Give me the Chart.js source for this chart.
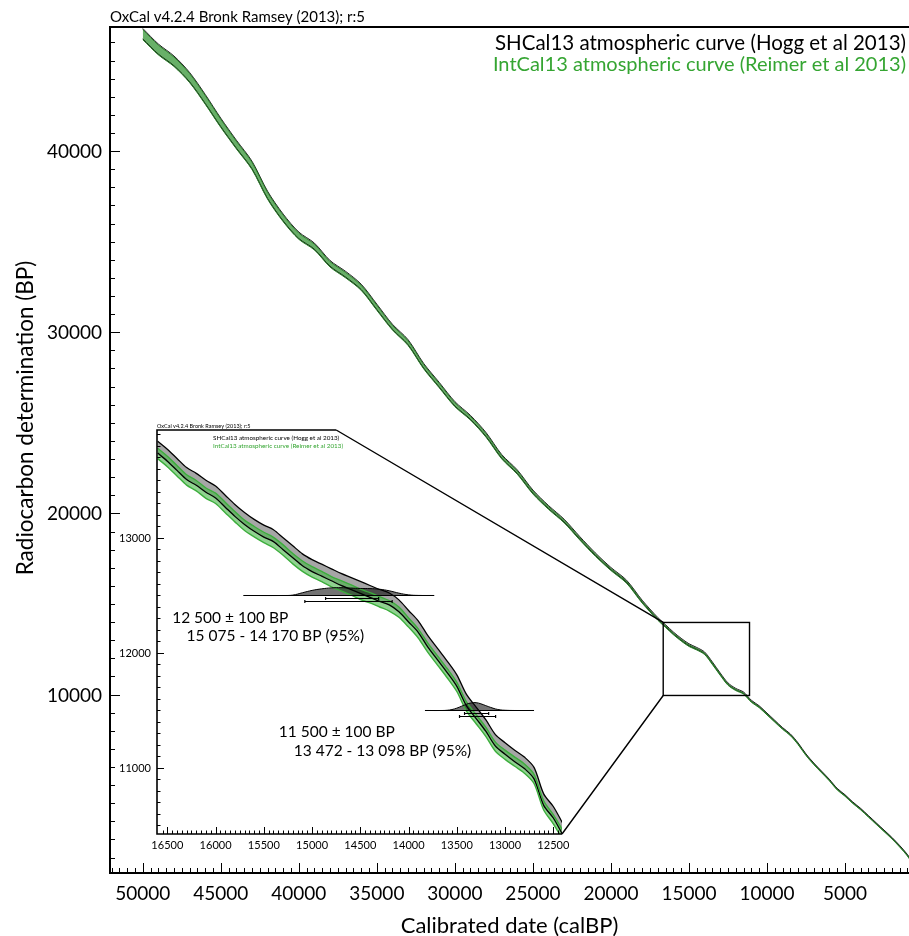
<!DOCTYPE html>
<html>
<head>
<meta charset="utf-8">
<script src="https://cdn.jsdelivr.net/npm/chart.js@4.4.1/dist/chart.umd.min.js"></script>
<style>
html, body { margin: 0; padding: 0; background: #fff; }
#wrap { position: relative; width: 909px; height: 936px; }
#wrap canvas { position: absolute; left: 0; top: 0; }
</style>
</head>
<body>
<div id="wrap">
  <canvas id="mainChart" width="909" height="936"></canvas>
  <canvas id="insetChart" width="909" height="936"></canvas>
</div>
<script>
// ---- main plot: calibration curves (calBP -> 14C BP) ----
var mainCal = [50000,49000,48000,47000,46000,45000,44000,43000,42000,41000,40000,39000,38000,37000,36000,35000,34000,33000,32000,31000,30000,29000,28000,27000,26000,25000,24000,23000,22000,21000,20000,19000,18000,17000,
  16500,16000,15500,15000,14500,14000,13500,13000,12500,12000,11500,11000,10500,10000,9500,9000,8500,8000,7500,7000,6500,6000,5500,5000,4500,4000,3500,3000,2500,2000,1500,1000,500,0];
var intcalMain = [46430,45580,44930,44030,42830,41530,40330,39180,37530,36280,35300,34700,33750,33150,32450,31350,30250,29400,28100,27050,26000,25250,24300,23100,22250,21150,20300,19550,18600,17700,16900,16200,15100,14150,
  13750,13350,13000,12700,12500,12250,11700,11100,10550,10250,10050,9600,9300,8900,8500,8100,7750,7250,6650,6150,5700,5250,4750,4400,4000,3650,3250,2850,2450,2050,1600,1100,450,100];
var intcalMainErr = [280,270,260,250,240,225,210,200,190,180,170,160,150,150,140,140,130,130,120,120,110,100,100,90,90,80,75,70,65,60,55,55,50,45,
  45,45,45,45,40,40,40,35,35,30,30,28,25,25,22,20,20,20,18,18,18,16,16,16,15,15,15,15,15,15,15,15,15,15];
var shcalMain = [46480,45630,44980,44080,42880,41580,40380,39230,37580,36330,35350,34750,33800,33200,32500,31400,30300,29450,28150,27100,26050,25300,24350,23150,22300,21200,20350,19600,18650,17750,16950,16250,15150,14200,
  13800,13400,13050,12750,12550,12300,11750,11150,10600,10300,10100,9650,9350,8950,8550,8150,7800,7300,6700,6200,5750,5300,4800,4450,4050,3700,3300,2900,2500,2100,1650,1150,500,150];
var shcalMainErr = [290,280,270,260,250,235,220,210,200,190,180,170,160,160,150,150,140,140,130,130,120,110,110,100,100,90,85,80,75,70,65,65,60,55,
  55,55,55,55,50,50,50,45,45,40,40,35,30,30,28,25,25,25,22,22,22,20,20,20,20,20,20,20,20,20,20,20,20,20];

// ---- inset: 16.6 - 12.4 ka detail ----
var insetCal = [16600,16500,16400,16300,16200,16100,16000,15900,15800,15700,15600,15500,15400,15300,15200,15100,15000,14900,14800,14700,14600,14500,14400,14300,14200,14100,14000,13900,13800,13700,13600,13500,13400,13300,13200,13100,13000,12900,12800,12700,12600,12500,12400];
var intcalInset = [13735,13665,13585,13505,13455,13390,13345,13265,13185,13110,13055,13005,12960,12895,12820,12755,12705,12665,12620,12585,12550,12510,12480,12445,12410,12355,12265,12170,12045,11935,11825,11705,11535,11425,11315,11185,11115,11055,10995,10905,10675,10555,10415];
var intcalInsetErr = [45,45,45,45,45,45,45,45,45,45,45,45,45,45,45,45,45,45,45,45,45,45,45,45,45,45,40,40,40,40,40,40,40,40,40,40,40,40,40,40,40,40,40];
var shcalInset = [13790,13720,13640,13560,13510,13450,13400,13320,13240,13170,13110,13060,13020,12950,12880,12810,12760,12720,12680,12640,12605,12570,12535,12500,12470,12410,12320,12230,12100,11990,11880,11760,11590,11480,11370,11240,11170,11105,11045,10955,10725,10615,10465];
var shcalInsetErr = [52,52,52,52,52,52,52,52,52,52,52,52,52,52,52,52,52,52,52,52,52,52,52,52,52,52,50,50,50,50,50,50,50,50,50,50,50,50,50,50,50,50,50];

// calibrated dates shown in the inset
var date1 = { bp: 12500, err: 100, label: '12 500 \u00b1 100 BP', range: '15 075 - 14 170 BP (95%)' };
var dist1Cal = [15710,15300,15200,15100,15000,14900,14800,14700,14600,14500,14400,14300,14200,14100,14000,13900,13735];
var dist1Prob = [0,0,0.05,0.35,0.65,0.85,0.97,1.0,0.95,0.9,0.88,0.8,0.6,0.3,0.08,0.01,0];
var dist1Range95 = [15075, 14170];
var dist1Range68 = [14860, 14310];
var date2 = { bp: 11500, err: 100, label: '11 500 \u00b1 100 BP', range: '13 472 - 13 098 BP (95%)' };
var dist2Cal = [13830,13650,13600,13550,13500,13450,13400,13350,13300,13250,13200,13150,13100,13050,13000,12900,12700];
var dist2Prob = [0,0,0.03,0.12,0.3,0.55,0.8,0.97,1.0,0.85,0.62,0.4,0.2,0.08,0.03,0,0];
var dist2Range95 = [13472, 13098];
var dist2Range68 = [13420, 13170];

// tick labels
var mainXLabels = [50000,45000,40000,35000,30000,25000,20000,15000,10000,5000];
var mainYLabels = [10000,20000,30000,40000];
var insetXLabels = [16500,16000,15500,15000,14500,14000,13500,13000,12500];
var insetYLabels = [11000,12000,13000];

// axis ranges / zoom box (data units)
var mainXRange = [900, 52100];
var mainYRange = [150, 46850];
var insetXRange = [12410, 16607];
var insetYRange = [10426, 13939];
var zoomBoxCal = [16650, 11120];
var zoomBoxBP = [9950, 13980];
var insetTopEdgeCal = 14750;
var distHeight = 68;

var FONT = 'Lato, "Open Sans", sans-serif';
var GREEN_TXT = '#35a532';

function band(xs, mid, err, sign) {
  return xs.map(function(x, i) { return { x: x, y: mid[i] + sign * err[i] }; });
}
function hump(xs, prob, base) {
  return xs.map(function(x, i) { return { x: x, y: base + prob[i] * distHeight }; });
}
// index 0 is drawn last (on top)
function bandSets(xs, sh, shErr, ic, icErr, st) {
  return [
    { data: band(xs, ic, icErr, 1), borderColor: st.icLine, borderWidth: st.icW, fill: false },
    { data: band(xs, ic, icErr, -1), borderColor: st.icLine, borderWidth: st.icW, fill: '-1', backgroundColor: st.icFill },
    { data: band(xs, sh, shErr, 1), borderColor: st.shLine, borderWidth: st.shW, fill: false },
    { data: band(xs, sh, shErr, -1), borderColor: st.shLine, borderWidth: st.shW, fill: '-1', backgroundColor: st.shFill }
  ];
}

function text(ctx, s, x, y, size, color, align) {
  ctx.font = size + 'px ' + FONT;
  ctx.fillStyle = color || '#000';
  ctx.textAlign = align || 'left';
  ctx.textBaseline = 'alphabetic';
  ctx.fillText(s, x, y);
}

function drawFrameTicks(ctx, xs, ys, area, o) {
  ctx.strokeStyle = '#000';
  ctx.lineWidth = 1;
  var v, p, len;
  for (v = o.xFrom; v <= o.xTo; v += o.xStep) {
    p = xs.getPixelForValue(v);
    if (p < area.left + 1 || p > area.right) continue;
    len = (v % o.xMajor === 0) ? o.majorLen : o.minorLen;
    ctx.beginPath();
    ctx.moveTo(Math.round(p) + 0.5, area.bottom);
    ctx.lineTo(Math.round(p) + 0.5, area.bottom - len);
    ctx.stroke();
  }
  for (v = o.yFrom; v <= o.yTo; v += o.yStep) {
    p = ys.getPixelForValue(v);
    if (p < area.top || p > area.bottom - 1) continue;
    len = (v % o.yMajor === 0) ? o.majorLen : o.minorLen;
    ctx.beginPath();
    ctx.moveTo(area.left, Math.round(p) + 0.5);
    ctx.lineTo(area.left + len, Math.round(p) + 0.5);
    ctx.stroke();
  }
}

var mainDecor = {
  id: 'mainDecor',
  afterDraw: function(chart) {
    var ctx = chart.ctx, a = chart.chartArea, xs = chart.scales.x, ys = chart.scales.y;
    ctx.save();
    drawFrameTicks(ctx, xs, ys, a, { xFrom: 1000, xTo: 52000, xStep: 500, xMajor: 5000,
      yFrom: 1000, yTo: 46000, yStep: 1000, yMajor: 10000, majorLen: 10, minorLen: 5 });
    ctx.lineWidth = 2;
    ctx.beginPath();
    ctx.moveTo(a.right, a.top); ctx.lineTo(a.left, a.top);
    ctx.lineTo(a.left, a.bottom); ctx.lineTo(a.right, a.bottom);
    ctx.stroke();
    mainXLabels.forEach(function(v) {
      text(ctx, String(v), xs.getPixelForValue(v), a.bottom + 27, 19, '#000', 'center');
    });
    mainYLabels.forEach(function(v) {
      text(ctx, String(v), a.left - 8, ys.getPixelForValue(v) + 7, 19, '#000', 'right');
    });
    text(ctx, 'OxCal v4.2.4 Bronk Ramsey (2013); r:5', a.left, a.top - 5, 15, '#000', 'left');
    text(ctx, 'SHCal13 atmospheric curve (Hogg et al 2013)', a.right - 3, 50, 20.5, '#000', 'right');
    text(ctx, 'IntCal13 atmospheric curve (Reimer et al 2013)', a.right - 3, 71, 20, GREEN_TXT, 'right');
    text(ctx, 'Calibrated date (calBP)', (a.left + a.right) / 2, 933, 22, '#000', 'center');
    ctx.translate(33, 418);
    ctx.rotate(-Math.PI / 2);
    text(ctx, 'Radiocarbon determination (BP)', 0, 0, 22.5, '#000', 'center');
    ctx.restore();
  }
};

var baseOpts = function(pad, xr, yr) {
  return {
    responsive: false,
    animation: false,
    layout: { padding: pad },
    elements: { point: { radius: 0 }, line: { tension: 0.3 } },
    plugins: { legend: { display: false }, tooltip: { enabled: false }, filler: { drawTime: 'beforeDatasetsDraw' } },
    scales: {
      x: { type: 'linear', reverse: true, min: xr[0], max: xr[1], display: false },
      y: { type: 'linear', min: yr[0], max: yr[1], display: false }
    }
  };
};

var mainChart = new Chart(document.getElementById('mainChart').getContext('2d'), {
  type: 'line',
  data: { datasets: bandSets(mainCal, shcalMain, shcalMainErr, intcalMain, intcalMainErr, {
    icLine: '#2a7d2a', icW: 1, icFill: 'rgba(70,165,70,0.75)',
    shLine: 'rgba(0,0,0,0.85)', shW: 1, shFill: 'rgba(0,0,0,0.2)' }) },
  options: baseOpts({ left: 110, top: 27, right: 0, bottom: 63 }, mainXRange, mainYRange),
  plugins: [mainDecor]
});

function drawRange(ctx, xs, ys, r, bp) {
  var y = Math.round(ys.getPixelForValue(bp)) + 0.5;
  var x1 = xs.getPixelForValue(r[0]), x2 = xs.getPixelForValue(r[1]);
  ctx.beginPath();
  ctx.moveTo(x1, y); ctx.lineTo(x2, y);
  ctx.moveTo(x1, y - 1.5); ctx.lineTo(x1, y + 1.5);
  ctx.moveTo(x2, y - 1.5); ctx.lineTo(x2, y + 1.5);
  ctx.stroke();
}

var insetDecor = {
  id: 'insetDecor',
  afterDraw: function(chart) {
    var ctx = chart.ctx, a = chart.chartArea, xs = chart.scales.x, ys = chart.scales.y;
    var mx = mainChart.scales.x, my = mainChart.scales.y;
    ctx.save();
    // baselines and ranges of the calibrated dates
    ctx.strokeStyle = '#000';
    ctx.lineWidth = 1.2;
    [[date1, dist1Cal, dist1Range95, dist1Range68], [date2, dist2Cal, dist2Range95, dist2Range68]].forEach(function(d) {
      var y = ys.getPixelForValue(d[0].bp);
      ctx.beginPath();
      ctx.moveTo(xs.getPixelForValue(d[1][0]), y);
      ctx.lineTo(xs.getPixelForValue(d[1][d[1].length - 1]), y);
      ctx.stroke();
      drawRange(ctx, xs, ys, d[3], d[0].bp - 24);
      drawRange(ctx, xs, ys, d[2], d[0].bp - 52);
    });
    drawFrameTicks(ctx, xs, ys, a, { xFrom: 12450, xTo: 16600, xStep: 50, xMajor: 500,
      yFrom: 10500, yTo: 13900, yStep: 100, yMajor: 1000, majorLen: 7, minorLen: 3.5 });
    // inset frame
    var topEnd = xs.getPixelForValue(insetTopEdgeCal);
    ctx.lineWidth = 1.6;
    ctx.beginPath();
    ctx.moveTo(topEnd, a.top); ctx.lineTo(a.left, a.top);
    ctx.lineTo(a.left, a.bottom); ctx.lineTo(a.right, a.bottom);
    ctx.stroke();
    // zoom box in the main plot + connectors
    var bx1 = mx.getPixelForValue(zoomBoxCal[0]), bx2 = mx.getPixelForValue(zoomBoxCal[1]);
    var by1 = my.getPixelForValue(zoomBoxBP[1]), by2 = my.getPixelForValue(zoomBoxBP[0]);
    ctx.lineWidth = 1.4;
    ctx.strokeRect(bx1, by1, bx2 - bx1, by2 - by1);
    ctx.beginPath();
    ctx.moveTo(topEnd, a.top); ctx.lineTo(bx1, by1);
    ctx.moveTo(a.right, a.bottom); ctx.lineTo(bx1, by2);
    ctx.stroke();
    // labels
    insetXLabels.forEach(function(v) {
      text(ctx, String(v), xs.getPixelForValue(v), a.bottom + 15, 11, '#000', 'center');
    });
    insetYLabels.forEach(function(v) {
      text(ctx, String(v), a.left - 6, ys.getPixelForValue(v) + 4, 11, '#000', 'right');
    });
    text(ctx, 'OxCal v4.2.4 Bronk Ramsey (2013); r:5', a.left, a.top - 2, 5.5, '#000', 'left');
    text(ctx, 'SHCal13 atmospheric curve (Hogg et al 2013)', a.left + 56, a.top + 10, 6.3, '#000', 'left');
    text(ctx, 'IntCal13 atmospheric curve (Reimer et al 2013)', a.left + 56, a.top + 18, 6.3, GREEN_TXT, 'left');
    text(ctx, date1.label, xs.getPixelForValue(16450), ys.getPixelForValue(12260), 15.5, '#000', 'left');
    text(ctx, date1.range, xs.getPixelForValue(16300), ys.getPixelForValue(12105), 15.5, '#000', 'left');
    text(ctx, date2.label, xs.getPixelForValue(15345), ys.getPixelForValue(11270), 15.5, '#000', 'left');
    text(ctx, date2.range, xs.getPixelForValue(15190), ys.getPixelForValue(11100), 15.5, '#000', 'left');
    ctx.restore();
  }
};

var insetSets = bandSets(insetCal, shcalInset, shcalInsetErr, intcalInset, intcalInsetErr, {
  icLine: '#3cae3c', icW: 1.4, icFill: 'rgba(70,180,70,0.6)',
  shLine: '#000', shW: 1.3, shFill: 'rgba(0,0,0,0.35)' });
insetSets.unshift(
  { data: hump(dist1Cal, dist1Prob, date1.bp), borderColor: '#000', borderWidth: 1, fill: { value: date1.bp }, backgroundColor: 'rgba(0,0,0,0.55)', tension: 0.4 },
  { data: hump(dist2Cal, dist2Prob, date2.bp), borderColor: '#000', borderWidth: 1, fill: { value: date2.bp }, backgroundColor: 'rgba(0,0,0,0.55)', tension: 0.4 }
);

var insetChart = new Chart(document.getElementById('insetChart').getContext('2d'), {
  type: 'line',
  data: { datasets: insetSets },
  options: baseOpts({ left: 157, top: 430, right: 347, bottom: 102 }, insetXRange, insetYRange),
  plugins: [insetDecor]
});
</script>
</body>
</html>
